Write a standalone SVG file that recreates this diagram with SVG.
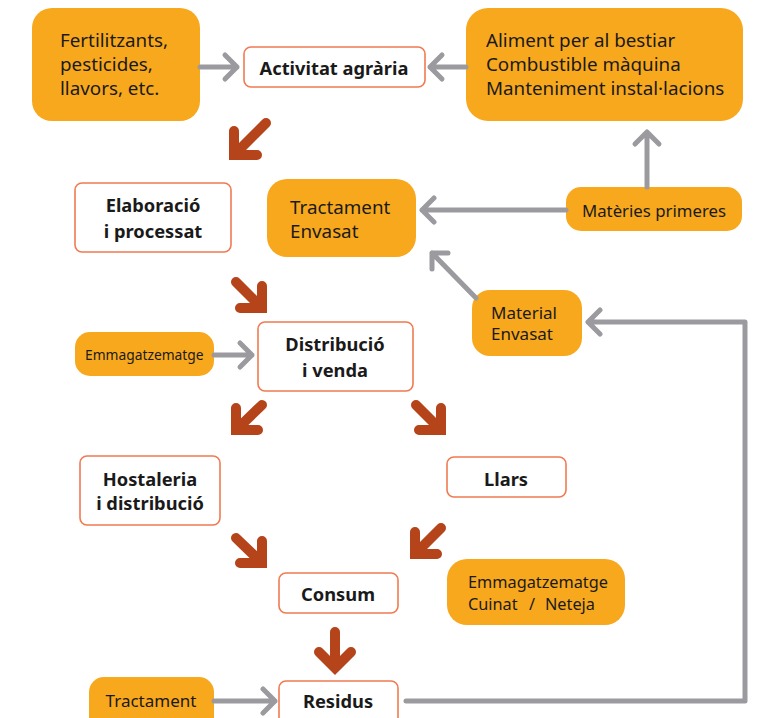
<svg xmlns="http://www.w3.org/2000/svg" width="757" height="718" viewBox="0 0 757 718">
<style>
text{font-family:"Noto Sans","DejaVu Sans",sans-serif;fill:#1a1a1a}
.o{fill:#f8a81d}
.w{fill:#fff;stroke:#f07a52;stroke-width:1.6}
.b{font-weight:bold;font-size:18.3px;text-anchor:middle}
.r{font-size:18.8px}
.g{fill:none;stroke:#9b9b9f;stroke-width:5;stroke-linecap:round;stroke-linejoin:round}
.br{fill:none;stroke:#b5441a;stroke-width:10;stroke-linecap:round;stroke-linejoin:miter}
</style>
<rect width="757" height="718" fill="#fff"/>
<g id="fertilitzants"><rect class="o" x="32" y="8" width="168" height="113" rx="20"/><text class="r" x="60" y="47">Fertilitzants,</text><text class="r" x="60" y="71">pesticides,</text><text class="r" x="60" y="95">llavors, etc.</text></g>
<g id="activitat"><rect class="w" x="244" y="47" width="181" height="40" rx="7"/><text class="b" x="334" y="75" font-size="17.6">Activitat agrària</text></g>
<g id="aliment"><rect class="o" x="466" y="8" width="277" height="113" rx="22"/><text class="r" x="486" y="47">Aliment per al bestiar</text><text class="r" x="486" y="71">Combustible màquina</text><text class="r" x="486" y="95">Manteniment instal·lacions</text></g>
<g id="materies"><rect class="o" x="566" y="187" width="176" height="44" rx="15"/><text x="654" y="217" font-size="16.8" text-anchor="middle">Matèries primeres</text></g>
<g id="tractament-envasat"><rect class="o" x="267" y="179" width="149" height="78" rx="20"/><text class="r" x="290" y="214">Tractament</text><text class="r" x="290" y="238">Envasat</text></g>
<g id="elaboracio"><rect class="w" x="75" y="183" width="156" height="69" rx="7"/><text class="b" x="153" y="212">Elaboració</text><text class="b" x="153" y="238">i processat</text></g>
<g id="distribucio"><rect class="w" x="258" y="322" width="155" height="69" rx="7"/><text class="b" x="335" y="351">Distribució</text><text class="b" x="335" y="377">i venda</text></g>
<g id="emmagatzematge"><rect class="o" x="75" y="332" width="139" height="44" rx="15"/><text x="85" y="360" font-size="13.8">Emmagatzematge</text></g>
<g id="material-envasat"><rect class="o" x="472" y="290" width="110" height="66" rx="18"/><text x="491" y="319" font-size="17">Material</text><text x="491" y="340" font-size="17">Envasat</text></g>
<g id="hostaleria"><rect class="w" x="80" y="456" width="140" height="69" rx="7"/><text class="b" x="150" y="486">Hostaleria</text><text class="b" x="150" y="510">i distribució</text></g>
<g id="llars"><rect class="w" x="447" y="457" width="119" height="40" rx="7"/><text class="b" x="506" y="486">Llars</text></g>
<g id="consum"><rect class="w" x="279" y="573" width="119" height="40" rx="7"/><text class="b" x="338" y="601">Consum</text></g>
<g id="emmagatzematge-cuinat"><rect class="o" x="447" y="559" width="178" height="66" rx="20"/><text x="468" y="588" font-size="16.3">Emmagatzematge</text><text y="610" font-size="16.3"><tspan x="468">Cuinat</tspan><tspan x="529">/</tspan><tspan x="545">Neteja</tspan></text></g>
<g id="tractament"><rect class="o" x="89" y="677" width="125" height="56" rx="15"/><text x="151" y="707" font-size="17" text-anchor="middle">Tractament</text></g>
<g id="residus"><rect class="w" x="279" y="681" width="119" height="52" rx="7"/><text class="b" x="338" y="708">Residus</text></g>
<g id="connectors">
<path class="g" d="M200,67 H237 M225,55 L237,67 L225,79"/>
<path class="g" d="M466,67 H430 M442,55 L430,67 L442,79"/>
<path class="g" d="M647,187 V132 M635,144 L647,132 L659,144"/>
<path class="g" d="M566,210 H422 M434,198 L422,210 L434,222"/>
<path class="g" d="M476,298 L432,253 M448,253 L432,253 L432,269"/>
<path class="g" d="M214,355 H252 M240,343 L252,355 L240,367"/>
<path class="g" d="M214,701 H275 M263,689 L275,701 L263,713"/>
<path class="g" d="M406,701 H745 V322 H588 M600,310 L588,322 L600,334"/>
<path class="br" d="M266,123 L235,154 M234,131 V155 H257"/>
<path class="br" d="M236,282 L261,307 M262,286 V308 H240"/>
<path class="br" d="M262,405 L237,429 M236,408 V430 H258"/>
<path class="br" d="M416,405 L440,429 M441,408 V430 H419"/>
<path class="br" d="M236,538 L261,562 M262,541 V563 H240"/>
<path class="br" d="M441,528 L416,553 M415,532 V554 H437"/>
<path class="br" d="M335,632 V667 M319,652 L335,668 L351,652"/>
</g>
</svg>
